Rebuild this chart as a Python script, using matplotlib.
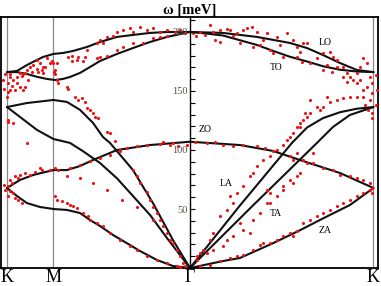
import matplotlib
matplotlib.use("Agg")
import matplotlib.pyplot as plt
import numpy as np
from matplotlib.ticker import MultipleLocator

# high-symmetry points along the path (arbitrary path units)
sym_labels = ["K", "M", "Γ", "K"]
sym_pos = [0.0, 46.5, 183.0, 366.5]

# model dispersion, K -> M -> Γ  (q, meV)
opt1_q = [0, 10, 20, 26, 36, 46.5, 56, 66, 80, 93, 110, 126, 143, 160, 183]
opt1_E = [166, 167, 172, 174.6, 178.8, 181.4, 182.2, 183.9, 187.3, 191.5, 195.8, 197.5, 199.2, 200, 200]
opt2_q = [0, 10, 20, 30, 40, 48, 56, 63, 73, 83, 93, 110, 126, 143, 160, 183]
opt2_E = [166, 166, 164.4, 162, 160.2, 159.3, 160.2, 161.9, 165.3, 170.3, 175.4, 181.4, 186.4, 191.5, 195.8, 200]
la1_q = [0, 20, 46.5, 60, 73, 86, 96, 103, 126, 146, 166, 183]
la1_E = [136.4, 139.8, 142.4, 140.7, 134, 123, 111, 106, 83, 55, 23.7, 0]
ta1_q = [0, 13, 30, 46.5, 55, 63, 76, 93, 110, 126, 143, 160, 183]
ta1_E = [136.4, 128, 117, 109.3, 107.6, 106, 99, 89, 76, 61, 45, 25.4, 0]
zo1_q = [0, 13, 26, 46.5, 60, 73, 86, 110, 143, 183]
zo1_E = [67.8, 74.6, 78.8, 83, 83, 86.4, 91.5, 100, 104.2, 107]
za1_q = [0, 10, 20, 33, 46.5, 60, 73, 83, 93, 106, 120, 133, 150, 166, 183]
za1_E = [67.8, 61, 55, 51.7, 50, 49.2, 46.6, 40.7, 35.6, 28, 21, 14.4, 6.8, 1.7, 0]

# model dispersion, Γ -> K
lo_q = [183, 216, 250, 283, 300, 316, 333, 350, 366.5]
lo_E = [200, 199.2, 195.8, 190.7, 186.4, 180.5, 173.7, 167.8, 166]
to_q = [183, 196, 216, 233, 250, 266, 283, 300, 316, 333, 350, 366.5]
to_E = [200, 199, 197, 193, 189, 184, 179, 175, 171, 168, 166.5, 166]
la2_q = [183, 233, 285, 300, 316, 333, 350, 366.5]
la2_E = [0, 53, 106, 119, 127, 132, 135, 136.4]
ta2_q = [183, 246, 310, 326, 343, 366.5]
ta2_E = [0, 53, 106, 119.5, 129.7, 136.4]
zo2_q = [183, 233, 266, 293, 333, 366.5]
zo2_E = [107, 104.2, 99.2, 91.5, 80.5, 67.8]
za2_q = [183, 216, 233, 266, 293, 316, 343, 366.5]
za2_E = [0, 5.9, 8.5, 21, 32, 42, 53.4, 67.8]

# measured points (q, meV)
exp_opt_KM = [(3, 162), (6, 159), (10, 162), (13, 165), (16, 164), (20, 168), (23, 170), (26, 172), (30, 169),
              (33, 174), (35, 168), (36, 170), (43, 174), (46, 174), (48, 168), (48, 164), (10, 157), (13, 153),
              (18, 153), (21, 159), (16, 151), (8, 151), (0, 145), (1, 149), (30, 176), (40, 178), (36, 165),
              (3, 164), (5, 154), (15, 163), (18, 165), (25, 166), (31, 166), (38, 170), (45, 175), (47, 166),
              (1, 157), (3, 151), (-3, 152), (-4, 159), (-2, 164)]
exp_opt_MG = [(50, 174), (61, 179), (65, 175), (70, 176), (76, 175), (80, 185), (90, 178), (93, 179), (100, 180),
              (110, 185), (116, 187), (126, 191), (136, 191), (146, 195), (153, 196), (160, 197), (65, 180),
              (71, 179), (78, 179), (90, 191), (93, 193), (96, 191), (100, 196), (106, 197), (110, 200), (116, 202),
              (123, 203), (126, 200), (133, 204), (140, 202), (146, 203), (153, 200), (160, 202), (168, 200),
              (173, 202), (178, 199)]
exp_ac_MG = [(50, 159), (51, 157), (60, 153), (61, 152), (68, 145), (71, 142), (75, 144), (78, 141), (80, 136),
             (83, 134), (86, 131), (88, 128), (91, 127), (100, 115), (103, 114), (108, 108), (113, 100), (126, 83),
             (130, 78), (133, 72), (140, 64), (143, 58), (146, 52), (150, 47), (153, 41), (156, 36), (160, 30),
             (163, 24), (166, 21), (170, 15), (173, 10), (176, 4), (60, 78), (73, 76), (86, 72), (100, 66),
             (115, 58), (130, 52), (146, 41), (20, 106), (1, 125), (6, 123), (1, 124)]
exp_z_KMG = [(3, 74.6), (8, 78), (13, 79), (18, 80.5), (23, 79), (33, 85), (35, 83), (48, 85), (51, 83), (63, 85),
             (73, 87), (83, 91), (93, 93), (103, 96), (113, 99), (120, 102), (130, 103), (140, 104), (153, 105),
             (166, 106), (156, 107), (163, 104), (171, 103), (180, 104), (5, 72), (1, 69.5), (11, 76), (28, 81),
             (43, 83), (3, 65), (6, 63.6), (8, 59), (11, 57.6), (1, 61), (-2, 66), (-3, 70), (15, 55), (48, 61),
             (50, 57.6), (60, 55), (63, 53), (70, 51), (76, 46.6), (83, 40.7), (90, 38), (96, 35.6), (103, 29.7),
             (113, 23.7), (123, 18.6), (130, 15.3), (140, 10.2), (150, 6.8), (160, 4.2), (170, 1.7), (66, 52.5),
             (55, 57), (81, 44), (173, 1), (178, 1.7)]
exp_opt_GK = [(186, 199), (193, 200), (203, 206), (206, 200), (213, 202), (220, 202.5), (223, 202), (230, 199),
              (236, 202), (240, 203), (245, 204), (250, 200), (260, 199), (270, 196), (280, 199), (208, 193),
              (213, 191.5), (233, 190.7), (246, 187), (253, 189), (263, 185), (266, 182), (276, 179), (286, 193),
              (290, 187), (293, 183), (296, 190.7), (300, 190.7), (290, 179), (295, 174.6), (303, 173.7), (310, 178),
              (316, 182), (323, 183), (326, 179), (330, 176), (320, 172), (316, 168), (325, 166), (330, 170),
              (336, 170), (340, 165), (343, 162), (350, 165), (353, 170), (356, 178), (360, 173.7), (363, 162),
              (365, 156.8), (360, 153), (356, 151), (353, 159), (350, 156.8), (346, 159), (340, 157.6), (336, 162),
              (356, 145), (363, 142), (365, 148), (189, 196.6), (198, 197.5), (226, 196.6), (256, 193), (273, 189),
              (369, 163.6), (370, 151), (369, 138)]
exp_ac_GK = [(336, 144), (343, 145), (350, 145), (330, 142), (323, 140.7), (320, 145), (316, 136.4), (313, 134),
             (310, 136.4), (303, 131), (300, 128), (296, 125.4), (293, 123), (290, 119.5), (286, 114.4), (283, 111),
             (280, 108.5), (303, 142), (298, 131), (293, 119.5), (365, 131), (365, 127), (358, 138), (361, 134),
             (190, 10.2), (193, 12.7), (196, 15.3), (203, 23.7), (206, 29.7), (213, 44), (220, 49), (223, 61),
             (226, 55), (230, 63.6), (236, 69.5), (243, 78), (246, 80.5), (250, 86.4), (256, 91.5), (263, 95),
             (270, 100), (276, 104), (220, 23.7), (233, 38), (243, 29.7), (260, 55), (263, 63.6), (276, 69.5),
             (283, 74.6), (290, 78), (293, 80.5), (290, 97.5), (286, 91.5), (260, 66), (190, 6.8), (200, 12.7),
             (206, 15.3), (216, 18.6), (226, 27), (236, 32.2), (246, 40.7), (253, 46.6), (263, 55), (270, 61),
             (276, 66), (286, 72), (300, 89), (306, 97.5)]
exp_z_GK = [(193, 1.7), (203, 2.5), (213, 5.9), (223, 8.5), (230, 10.2), (236, 11), (246, 15.3), (253, 19.5),
            (256, 21), (263, 21), (270, 23.7), (276, 27), (283, 29.7), (290, 31.4), (286, 27), (296, 38), (303, 40.7),
            (310, 44), (316, 46.6), (323, 49), (330, 52.5), (336, 55), (343, 57.6), (350, 61), (356, 63.6), (363, 66),
            (365, 63.6), (200, 106), (216, 104), (226, 103.4), (236, 104), (250, 103.4), (266, 99), (283, 95),
            (296, 91.5), (306, 89), (316, 84.7), (326, 83), (333, 78.8), (343, 78), (350, 76), (356, 74.6), (363, 72),
            (365, 67.8), (188, 107), (208, 107), (258, 101.7)]

branch_labels = ["LO", "TO", "ZO", "LA", "TA", "ZA"]
branch_label_pos = [(318, 191.5), (269, 169.5), (198, 117), (219, 72), (269, 45.8), (318, 32.2)]

plt.rcParams["font.family"] = ["Liberation Serif", "DejaVu Serif"]
fig = plt.figure(figsize=(3.81, 2.86), dpi=100)
ax = fig.add_axes([0.0026, 0.0629, 0.9894, 0.8777])

for p in (sym_pos[0], sym_pos[1], sym_pos[3]):
    ax.axvline(p, color="#8a8a8a", lw=0.9, zorder=1)

curves = [(opt1_q, opt1_E), (opt2_q, opt2_E), (la1_q, la1_E), (ta1_q, ta1_E), (zo1_q, zo1_E), (za1_q, za1_E),
          (lo_q, lo_E), (to_q, to_E), (la2_q, la2_E), (ta2_q, ta2_E), (zo2_q, zo2_E), (za2_q, za2_E)]
for q, E in curves:
    ax.plot(q, E, color="#111111", lw=1.5, solid_capstyle="round", solid_joinstyle="round", zorder=2)

pts = np.array(exp_opt_KM + exp_opt_MG + exp_ac_MG + exp_z_KMG + exp_opt_GK + exp_ac_GK + exp_z_GK, dtype=float)
ax.scatter(pts[:, 0], pts[:, 1], s=5, color="#f01010", linewidths=0, zorder=3)

for lab, (x, y) in zip(branch_labels, branch_label_pos):
    ax.text(x, y, lab, fontsize=7, ha="center", va="center", zorder=4)

ax.set_xlim(-6, 371)
ax.set_ylim(0, 212.7)
ax.set_xticks(sym_pos)
ax.set_xticklabels(sym_labels, fontsize=13)
ax.tick_params(axis="x", length=0, pad=1)
ax.set_yticks([])
for s in ax.spines.values():
    s.set_linewidth(1.3)
ax.set_title("ω [meV]", fontsize=10.5, fontweight="bold", pad=2)

# energy axis drawn through Γ
ay = ax.twinx()
ay.set_ylim(ax.get_ylim())
for side in ("top", "bottom", "right"):
    ay.spines[side].set_visible(False)
ay.spines["left"].set_position(("data", sym_pos[2]))
ay.spines["left"].set_linewidth(1.0)
ay.yaxis.tick_left()
ay.set_yticks([50, 100, 150, 200])
ay.yaxis.set_minor_locator(MultipleLocator(10))
ay.tick_params(which="both", direction="in", length=3.5, width=0.8, pad=1.5, labelsize=7.5, labelcolor="#5a5040")

fig.savefig("out.png", dpi=100)
